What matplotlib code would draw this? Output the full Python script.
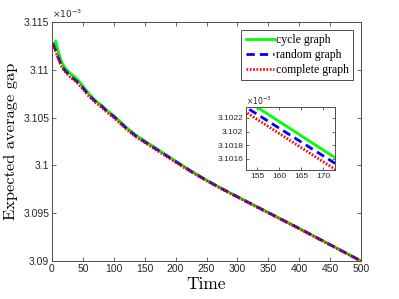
import matplotlib
matplotlib.use("Agg")
import matplotlib.pyplot as plt
from matplotlib.ticker import FixedLocator, FixedFormatter

# ---- data (values in units of 1e-3) ----
t_cycle = [4, 6, 10, 15, 20, 30, 40, 50, 60, 70, 80, 90, 100, 110, 120, 135, 150,
           175, 200, 225, 250, 275, 300, 325, 350, 375, 400, 425, 450, 475, 500]
cycle = [3.1127, 3.1130, 3.1120, 3.1109, 3.1103, 3.1096, 3.1091, 3.1083, 3.1075,
         3.1068, 3.1063, 3.1057, 3.1052, 3.1046, 3.1040, 3.1032, 3.10257, 3.10152,
         3.10046, 3.09943, 3.09847, 3.09758, 3.09674, 3.09591, 3.09508, 3.09425,
         3.09342, 3.09257, 3.09172, 3.09087, 3.09001]

t_other = [1, 5, 10, 15, 20, 30, 40, 50, 60, 70, 80, 90, 100, 110, 120, 135, 150,
           175, 200, 225, 250, 275, 300, 325, 350, 375, 400, 425, 450, 475, 500]
random_g = [3.1128, 3.1122, 3.1113, 3.1105, 3.1100, 3.1093, 3.1088, 3.1081, 3.1073,
            3.1067, 3.1062, 3.1056, 3.1051, 3.1045, 3.1039, 3.1031, 3.10246, 3.10144,
            3.10040, 3.09938, 3.09843, 3.09755, 3.09671, 3.09588, 3.09505, 3.09422,
            3.09340, 3.09255, 3.09170, 3.09085, 3.09000]
complete_g = [3.1127, 3.1121, 3.1112, 3.1104, 3.1099, 3.1092, 3.1087, 3.1080, 3.1072,
              3.1066, 3.1061, 3.1055, 3.1050, 3.1044, 3.1038, 3.1030, 3.10239, 3.10135,
              3.10032, 3.09932, 3.09838, 3.09751, 3.09668, 3.09585, 3.09502, 3.09419,
              3.09337, 3.09252, 3.09168, 3.09083, 3.08998]

labels = ["cycle graph", "random graph", "complete graph"]

x_ticks = [0, 50, 100, 150, 200, 250, 300, 350, 400, 450, 500]
y_ticks = [3.09, 3.095, 3.1, 3.105, 3.11, 3.115]
y_tick_labels = ["3.09", "3.095", "3.1", "3.105", "3.11", "3.115"]
inset_x_ticks = [155, 160, 165, 170]
inset_y_ticks = [3.1016, 3.1018, 3.102, 3.1022]
inset_y_tick_labels = ["3.1016", "3.1018", "3.102", "3.1022"]

# ---- figure ----
fig = plt.figure(figsize=(3.99, 2.99), dpi=100)
ax = fig.add_axes([0.1303, 0.1271, 0.7745, 0.7993])

axcol = "0.3"
sans = "Liberation Sans"


def style(a, fs):
    for s in a.spines.values():
        s.set_color(axcol)
        s.set_linewidth(0.7)
    a.tick_params(direction="in", which="both", top=True, right=True,
                  length=3, width=0.6, color=axcol, labelsize=fs,
                  labelcolor="#262626", pad=2)
    for lab in a.get_xticklabels() + a.get_yticklabels():
        lab.set_fontfamily(sans)


def draw(a):
    a.plot(t_cycle, cycle, color="#00FF00", lw=2.0, ls="-", label=labels[0])
    a.plot(t_other, random_g, color="#0000FF", lw=2.0, ls=(0, (3, 1.8)), label=labels[1])
    a.plot(t_other, complete_g, color="#FF0000", lw=2.0, ls=(0, (0.6, 0.6)), label=labels[2])


draw(ax)
ax.set_xlim(0, 500)
ax.set_ylim(3.09, 3.115)
ax.xaxis.set_major_locator(FixedLocator(x_ticks))
ax.yaxis.set_major_locator(FixedLocator(y_ticks))
ax.yaxis.set_major_formatter(FixedFormatter(y_tick_labels))
ax.set_xticklabels([str(v) for v in x_ticks])
style(ax, 7.5)
ax.text(0.0, 1.008, r"$\times 10^{-3}$", transform=ax.transAxes, fontsize=6.5,
        color="#262626", ha="left", va="bottom", family=sans)

ax.set_xlabel("Time", family="cmr10", fontsize=12.5, labelpad=2)
ax.set_ylabel("Expected average gap", family="cmr10", fontsize=11.8, labelpad=4)

leg = ax.legend(loc="upper right", bbox_to_anchor=(0.975, 0.9665), borderaxespad=0,
                prop={"family": "Liberation Serif", "size": 8.5},
                handlelength=2.4, handletextpad=0.2, labelspacing=0.25,
                borderpad=0.35, fancybox=False, framealpha=1, edgecolor="0.3")
leg.get_frame().set_linewidth(0.7)

# ---- inset ----
ins = fig.add_axes([0.6165, 0.4314, 0.2231, 0.2097])
draw(ins)
ins.set_xlim(152.5, 172.7)
ins.set_ylim(3.101435, 3.102357)
ins.xaxis.set_major_locator(FixedLocator(inset_x_ticks))
ins.set_xticklabels([str(v) for v in inset_x_ticks])
ins.yaxis.set_major_locator(FixedLocator(inset_y_ticks))
ins.yaxis.set_major_formatter(FixedFormatter(inset_y_tick_labels))
style(ins, 6)
ins.tick_params(length=2)
ins.text(0.0, 1.01, r"$\times 10^{-3}$", transform=ins.transAxes, fontsize=5.5,
         color="#262626", ha="left", va="bottom", family=sans)

fig.savefig("out.png", dpi=100)
